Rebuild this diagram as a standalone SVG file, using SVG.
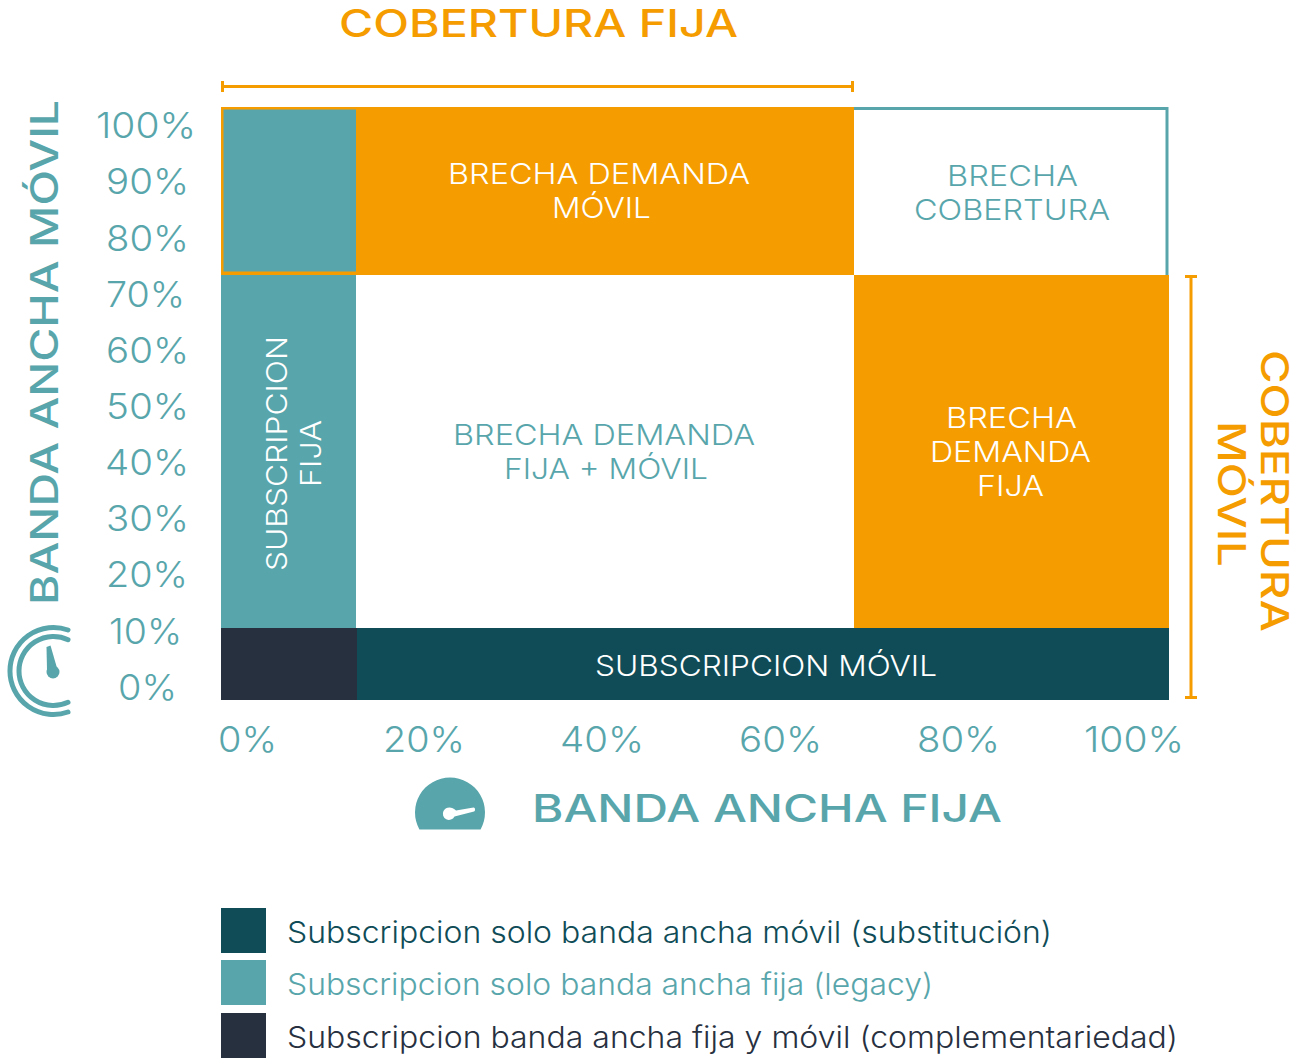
<svg xmlns="http://www.w3.org/2000/svg" width="1306" height="1059" viewBox="0 0 1306 1059">
<style>
text{font-family:"Inter","Lato","Liberation Sans",sans-serif;font-weight:300}
.t{fill:#58a6ab}.o{fill:#f59c00}.w{fill:#fff}.n{fill:#0f4c57}.k{fill:#27303f}
.ax{font-size:36px}.c{font-size:29px}.big{font-size:38px;font-weight:500}
.br{stroke:#f59c00;stroke-width:3;fill:none}
</style>
<rect width="1306" height="1059" fill="#fff"/>
<g id="cell-brecha-cobertura"><path d="M854 108.500H1167V275" fill="none" stroke="#58a6ab" stroke-width="3"/><text class="c t" x="947" y="186" textLength="131" lengthAdjust="spacingAndGlyphs">BRECHA</text><text class="c t" x="914" y="220" textLength="196" lengthAdjust="spacingAndGlyphs">COBERTURA</text></g>
<g id="cell-demanda-movil"><rect class="o" x="221" y="107" width="633" height="168"/><text class="c w" x="448" y="184" textLength="302" lengthAdjust="spacingAndGlyphs">BRECHA DEMANDA</text><text class="c w" x="552" y="218" textLength="99" lengthAdjust="spacingAndGlyphs">MÓVIL</text></g>
<g id="cell-fija-top"><rect class="t" x="223.500" y="109.500" width="132.500" height="162"/></g>
<g id="cell-subscripcion-fija"><rect class="t" x="221" y="275" width="135" height="353"/><text class="c w" transform="translate(287 571) rotate(-90)" textLength="235" lengthAdjust="spacingAndGlyphs">SUBSCRIPCION</text><text class="c w" transform="translate(321 487) rotate(-90)" textLength="67" lengthAdjust="spacingAndGlyphs">FIJA</text></g>
<g id="cell-demanda-fija-movil"><text class="c t" x="453" y="445" textLength="302" lengthAdjust="spacingAndGlyphs">BRECHA DEMANDA</text><text class="c t" x="504" y="479" textLength="204" lengthAdjust="spacingAndGlyphs">FIJA + MÓVIL</text></g>
<g id="cell-demanda-fija"><rect class="o" x="854" y="275" width="315" height="353"/><text class="c w" x="946" y="428" textLength="131" lengthAdjust="spacingAndGlyphs">BRECHA</text><text class="c w" x="930" y="462" textLength="161" lengthAdjust="spacingAndGlyphs">DEMANDA</text><text class="c w" x="977" y="496" textLength="67" lengthAdjust="spacingAndGlyphs">FIJA</text></g>
<g id="cell-complementariedad"><rect class="k" x="221" y="628" width="136" height="72"/></g>
<g id="cell-subscripcion-movil"><rect class="n" x="357" y="628" width="812" height="72"/><text class="c w" x="595" y="676" textLength="342" lengthAdjust="spacingAndGlyphs">SUBSCRIPCION MÓVIL</text></g>
<g id="connectors">
<path class="br" d="M222.500 81V92M222.500 86.500H852.500M852.500 81V92"/>
<path class="br" d="M1185 276.500H1197M1191 276.500V697.500M1185 697.500H1197"/>
</g>
<g id="y-axis">
<text class="ax t" x="96" y="138" textLength="100" lengthAdjust="spacingAndGlyphs">100%</text>
<text class="ax t" x="106" y="194" textLength="83" lengthAdjust="spacingAndGlyphs">90%</text>
<text class="ax t" x="106" y="251" textLength="83" lengthAdjust="spacingAndGlyphs">80%</text>
<text class="ax t" x="106" y="307" textLength="79" lengthAdjust="spacingAndGlyphs">70%</text>
<text class="ax t" x="106" y="363" textLength="83" lengthAdjust="spacingAndGlyphs">60%</text>
<text class="ax t" x="106" y="419" textLength="83" lengthAdjust="spacingAndGlyphs">50%</text>
<text class="ax t" x="105" y="475" textLength="84" lengthAdjust="spacingAndGlyphs">40%</text>
<text class="ax t" x="106" y="531" textLength="83" lengthAdjust="spacingAndGlyphs">30%</text>
<text class="ax t" x="106" y="587" textLength="82" lengthAdjust="spacingAndGlyphs">20%</text>
<text class="ax t" x="109" y="644" textLength="73" lengthAdjust="spacingAndGlyphs">10%</text>
<text class="ax t" x="118" y="700" textLength="59" lengthAdjust="spacingAndGlyphs">0%</text>
</g>
<g id="x-axis">
<text class="ax t" x="218" y="752" textLength="59" lengthAdjust="spacingAndGlyphs">0%</text>
<text class="ax t" x="383" y="752" textLength="82" lengthAdjust="spacingAndGlyphs">20%</text>
<text class="ax t" x="560" y="752" textLength="84" lengthAdjust="spacingAndGlyphs">40%</text>
<text class="ax t" x="739" y="752" textLength="83" lengthAdjust="spacingAndGlyphs">60%</text>
<text class="ax t" x="917" y="752" textLength="83" lengthAdjust="spacingAndGlyphs">80%</text>
<text class="ax t" x="1084" y="752" textLength="100" lengthAdjust="spacingAndGlyphs">100%</text>
</g>
<g id="title-cobertura-fija"><text class="big o" x="339" y="37" textLength="399" lengthAdjust="spacingAndGlyphs">COBERTURA FIJA</text></g>
<g id="title-cobertura-movil"><text class="big o" transform="translate(1261 350) rotate(90)" textLength="282" lengthAdjust="spacingAndGlyphs">COBERTURA</text><text class="big o" transform="translate(1218 421) rotate(90)" textLength="146" lengthAdjust="spacingAndGlyphs">MÓVIL</text></g>
<g id="title-banda-movil"><text class="big t" transform="translate(58 605) rotate(-90)" textLength="505" lengthAdjust="spacingAndGlyphs">BANDA ANCHA MÓVIL</text></g>
<g id="title-banda-fija"><text class="big t" x="532" y="822" textLength="470" lengthAdjust="spacingAndGlyphs">BANDA ANCHA FIJA</text></g>
<g id="icon-movil">
<path d="M68 630A43.500 43.500 0 1 0 68 712M68 639.700A34.500 34.500 0 1 0 68 702.300" fill="none" stroke="#58a6ab" stroke-width="5" stroke-linecap="round"/>
<path class="t" d="M46.500 647L50.500 645.500L57 668L47 670Z"/><circle class="t" cx="53" cy="672" r="6.500"/>
</g>
<g id="icon-fija">
<path class="t" fill-rule="evenodd" d="M419.400 829.500A35 35 0 1 1 480.600 829.500ZM443.500 811A6 6 0 1 0 454.500 816.500L474 811.500C475.500 811 475.500 807.500 473.500 807.500L456 810.500C452 806.500 446 806.500 443.500 811Z"/>
</g>
<g id="legend">
<rect class="n" x="221" y="908" width="45" height="45"/>
<text x="287" y="943" font-size="30" fill="#0f4c57" textLength="765" lengthAdjust="spacingAndGlyphs">Subscripcion solo banda ancha móvil (substitución)</text>
<rect class="t" x="221" y="960" width="45" height="45"/>
<text class="t" x="287" y="995" font-size="30" textLength="646" lengthAdjust="spacingAndGlyphs">Subscripcion solo banda ancha fija (legacy)</text>
<rect class="k" x="221" y="1013" width="45" height="45"/>
<text x="287" y="1048" font-size="30" fill="#27303f" textLength="891" lengthAdjust="spacingAndGlyphs">Subscripcion banda ancha fija y móvil (complementariedad)</text>
</g>
</svg>
